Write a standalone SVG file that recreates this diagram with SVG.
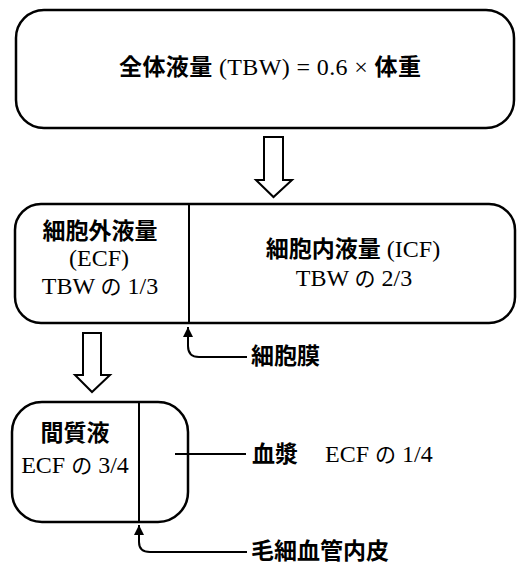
<svg xmlns="http://www.w3.org/2000/svg" width="520" height="565" viewBox="0 0 520 565">
<style>
.box{fill:#fff;stroke:#000;stroke-width:2.5}
.div{stroke:#000;stroke-width:2}
.arr{fill:#fff;stroke:#000;stroke-width:2;stroke-linejoin:miter}
.con{fill:none;stroke:#000;stroke-width:2}
text{font-family:"Liberation Serif","Noto Sans CJK JP",serif;font-size:24px;fill:#000}
.j{font-family:"Noto Sans CJK JP",sans-serif;font-weight:bold;font-size:23px}
.n{font-family:"Noto Sans CJK JP",sans-serif;font-weight:normal;font-size:21px}
.m{text-anchor:middle}
</style>
<defs>
<marker id="ah" viewBox="0 0 10 10" refX="10" refY="5" markerWidth="10" markerHeight="10" markerUnits="userSpaceOnUse" orient="auto-start-reverse">
<path d="M0,0 L10,5 L0,10 Z" fill="#000"/>
</marker>
</defs>
<g id="tbw">
<rect class="box" x="16" y="10" width="498" height="118" rx="28"/>
<text class="m" x="270" y="75" textLength="302" lengthAdjust="spacing"><tspan class="j">全体液量</tspan> (TBW) = 0.6 × <tspan class="j">体重</tspan></text>
</g>
<g id="arrow1">
<path class="arr" d="M264,137 L283,137 L283,180 L292,180 L273.5,197 L256,180 L264,180 Z"/>
</g>
<g id="fluid">
<rect class="box" x="15" y="204" width="500" height="119" rx="26"/>
<line class="div" x1="189" y1="204" x2="189" y2="323"/>
<text class="m" x="100" y="239"><tspan class="j">細胞外液量</tspan></text>
<text class="m" x="99" y="266">(ECF)</text>
<text class="m" x="100" y="294">TBW <tspan class="n">の</tspan> 1/3</text>
<text class="m" x="353" y="257"><tspan class="j">細胞内液量</tspan> (ICF)</text>
<text class="m" x="354" y="286">TBW <tspan class="n">の</tspan> 2/3</text>
</g>
<g id="arrow2">
<path class="arr" d="M83,333 L101,333 L101,375 L110,375 L92,392 L75,375 L83,375 Z"/>
</g>
<g id="ecf">
<rect class="box" x="12" y="402" width="176" height="120" rx="30"/>
<line class="div" x1="139" y1="402" x2="139" y2="522"/>
<text class="m" x="75" y="441"><tspan class="j">間質液</tspan></text>
<text class="m" x="75" y="473">ECF <tspan class="n">の</tspan> 3/4</text>
</g>
<g id="labels">
<text x="251" y="364"><tspan class="j">細胞膜</tspan></text>
<text x="252" y="462"><tspan class="j">血漿</tspan><tspan x="325">ECF </tspan><tspan class="n">の</tspan> 1/4</text>
<text x="251" y="559"><tspan class="j">毛細血管内皮</tspan></text>
</g>
<g id="connectors">
<path class="con" d="M188,327 L188,346 Q188,357 199,357 L247,357" marker-start="url(#ah)"/>
<line class="con" x1="175" y1="454" x2="246" y2="454"/>
<path class="con" d="M139,525 L139,542 Q139,552 150,552 L247,552" marker-start="url(#ah)"/>
</g>
</svg>
